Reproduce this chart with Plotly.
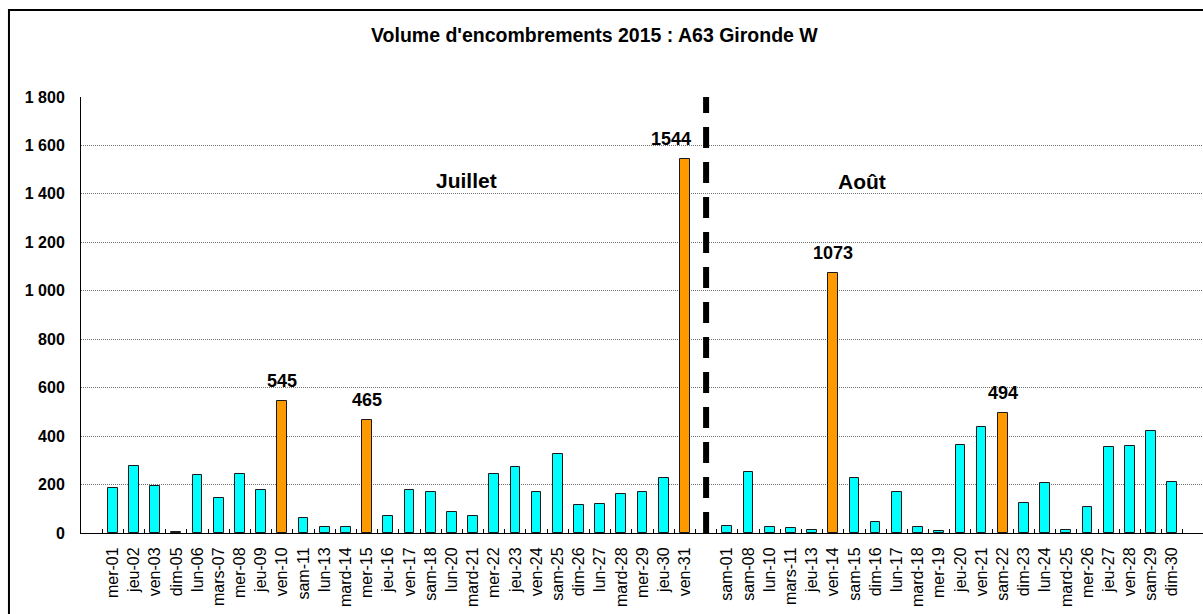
import plotly.graph_objects as go

# Daily congestion volume, July and August 2015
juillet_jours = ["mer-01", "jeu-02", "ven-03", "dim-05", "lun-06", "mars-07", "mer-08",
                 "jeu-09", "ven-10", "sam-11", "lun-13", "mard-14", "mer-15", "jeu-16",
                 "ven-17", "sam-18", "lun-20", "mard-21", "mer-22", "jeu-23", "ven-24",
                 "sam-25", "dim-26", "lun-27", "mard-28", "mer-29", "jeu-30", "ven-31"]
juillet_volumes = [187, 276, 192, 5, 239, 145, 244, 177, 545, 61, 25, 25, 465, 72,
                   176, 171, 87, 70, 244, 272, 171, 328, 114, 120, 163, 171, 229, 1544]

aout_jours = ["sam-01", "sam-08", "lun-10", "mars-11", "jeu-13", "ven-14", "sam-15",
              "dim-16", "lun-17", "mard-18", "mer-19", "jeu-20", "ven-21", "sam-22",
              "dim-23", "lun-24", "mard-25", "mer-26", "jeu-27", "ven-28", "sam-29", "dim-30"]
aout_volumes = [30, 250, 25, 19, 14, 1073, 229, 47, 171, 25, 10, 364, 438, 494,
                124, 208, 14, 108, 354, 360, 422, 212]

# Days highlighted in orange, with their value written above the bar
jours_pointe = ["ven-10", "mer-15", "ven-31", "ven-14", "sam-22"]

y_ticks = [0, 200, 400, 600, 800, 1000, 1200, 1400, 1600, 1800]

# Slot layout: one empty slot before July, one empty slot between the months
x_juillet = list(range(1, 1 + len(juillet_jours)))
x_separation = len(juillet_jours) + 1
x_aout = list(range(x_separation + 1, x_separation + 1 + len(aout_jours)))

labels = juillet_jours + aout_jours
values = juillet_volumes + aout_volumes
xs = x_juillet + x_aout

CYAN = "#00FFFF"
ORANGE = "#FF9900"
FONT = "Arial, Liberation Sans, sans-serif"

colors = [ORANGE if lab in jours_pointe else CYAN for lab in labels]

fig = go.Figure()
fig.add_trace(go.Bar(
    x=xs, y=values, width=0.46,
    marker=dict(color=colors, line=dict(color="#1a1a1a", width=1)),
    hoverinfo="skip", showlegend=False,
))

annotations = []
for x, lab, v in zip(xs, labels, values):
    if lab in jours_pointe:
        annotations.append(dict(
            x=x, y=v, xref="x", yref="y", text=f"<b>{v}</b>", showarrow=False,
            yanchor="bottom", yshift=8, xshift=-14 if lab == "ven-31" else 0,
            font=dict(family=FONT, size=18, color="black"),
        ))

# Month names
annotations.append(dict(x=17.67, y=1457, xref="x", yref="y", text="<b>Juillet</b>",
                        showarrow=False, font=dict(family=FONT, size=21, color="black")))
annotations.append(dict(x=36.36, y=1453, xref="x", yref="y", text="<b>Août</b>",
                        showarrow=False, font=dict(family=FONT, size=21, color="black")))

# Title
annotations.append(dict(x=0.4575, y=1.142, xref="paper", yref="paper",
                        text="<b>Volume d'encombrements 2015 : A63 Gironde W</b>",
                        showarrow=False, yanchor="middle",
                        font=dict(family=FONT, size=19.5, color="black")))

shapes = [
    # Month separator
    dict(type="line", xref="x", yref="y", x0=x_separation, x1=x_separation,
         y0=0, y1=y_ticks[-1], line=dict(color="black", width=6, dash="21px,14px")),
    # Chart frame
    dict(type="rect", xref="paper", yref="paper", x0=-0.0642, x1=1.05,
         y0=-0.4, y1=1.1995, line=dict(color="black", width=2), layer="above"),
]

n_slots = x_aout[-1] + 1
fig.update_layout(
    width=1203, height=614,
    margin=dict(l=81, r=0, t=97, b=81),
    paper_bgcolor="white", plot_bgcolor="white",
    bargap=0,
    annotations=annotations,
    shapes=shapes,
    xaxis=dict(
        range=[-0.5, 52.45],
        tickmode="array", tickvals=xs, ticktext=labels, tickangle=-90,
        tickfont=dict(family=FONT, size=16, color="black"),
        ticks="", ticklabelstandoff=7, showgrid=False, zeroline=False,
        showline=True, linecolor="black", linewidth=1,
        minor=dict(tickmode="array", tickvals=[k + 0.5 for k in range(n_slots)],
                   ticks="inside", ticklen=4, tickcolor="black", showgrid=False),
    ),
    yaxis=dict(
        range=[0, 1800],
        tickmode="array", tickvals=y_ticks,
        ticktext=[f"<b>{v:,}</b>".replace(",", " ") for v in y_ticks],
        tickfont=dict(family=FONT, size=16, color="black"),
        ticks="", ticklabelstandoff=12,
        showgrid=True, gridcolor="#707070", griddash="1px,1px", gridwidth=1,
        zeroline=False, showline=True, linecolor="black", linewidth=1,
    ),
)

fig.write_html("out.html")
